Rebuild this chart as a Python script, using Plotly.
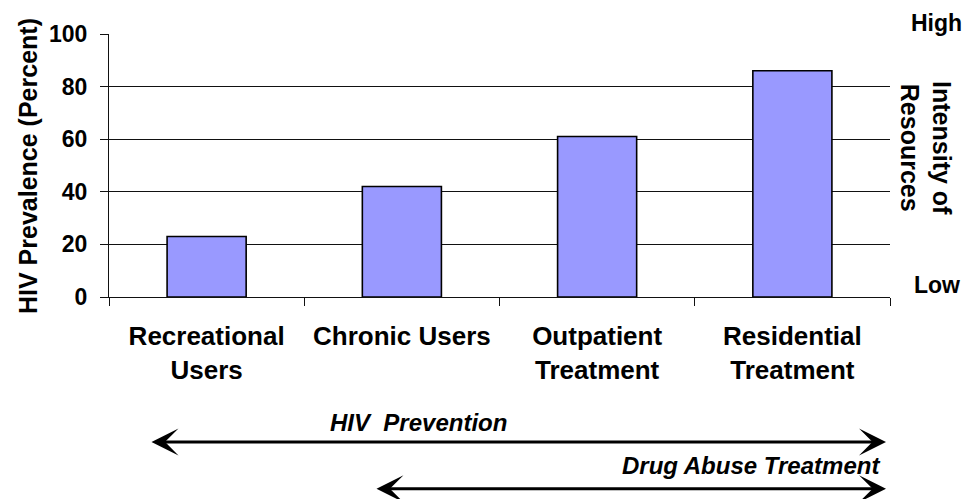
import plotly.graph_objects as go

categories = ["Recreational<br>Users", "Chronic Users", "Outpatient<br>Treatment", "Residential<br>Treatment"]
prevalence = [23, 42, 61, 86]
y_ticks = [0, 20, 40, 60, 80, 100]

FONT = "Liberation Sans"

L, R, T, B = 109, 80, 33.5, 201.5
W, H = 970, 499
pw = W - L - R
ph = H - T - B

def px(x):
    return (x - L) / pw

def py(y):
    return (H - B - y) / ph

fig = go.Figure()
fig.add_trace(go.Bar(
    x=categories, y=prevalence,
    marker=dict(color="#9999FF", line=dict(color="#000000", width=1.6)),
    width=0.405,
))

fig.update_layout(
    width=W, height=H,
    margin=dict(l=L, r=R, t=T, b=B, pad=0),
    paper_bgcolor="white", plot_bgcolor="white",
    showlegend=False,
    font=dict(family=FONT, color="black"),
    xaxis=dict(
        type="category", range=[-0.5, 3.5],
        tickvals=categories, ticktext=["<b>" + c + "</b>" for c in categories],
        showgrid=False, showline=True, linecolor="#111", linewidth=1,
        ticks="outside", ticklen=8, tickcolor="#111", tickson="boundaries",
        tickfont=dict(family=FONT, size=26, color="black"),
        ticklabelstandoff=16,
    ),
    yaxis=dict(
        range=[0, 100], tickvals=y_ticks,
        ticktext=["<b>%d</b>" % v for v in y_ticks],
        showgrid=True, gridcolor="#111", gridwidth=1,
        showline=True, linecolor="#111", linewidth=1,
        ticks="outside", ticklen=8, tickcolor="#111",
        tickfont=dict(family=FONT, size=23, color="black"),
        ticklabelstandoff=8, zeroline=False,
    ),
)

ann_font = dict(family=FONT, size=25, color="black")
fig.add_annotation(text="<b>HIV Prevalence (Percent)</b>", xref="paper", yref="paper",
                   x=px(28), y=py(166), textangle=-90, showarrow=False,
                   xanchor="center", yanchor="middle", font=ann_font)
fig.add_annotation(text="<b>High</b>", xref="paper", yref="paper", x=px(937), y=py(22),
                   showarrow=False, xanchor="center", yanchor="middle", font=dict(ann_font, size=23))
fig.add_annotation(text="<b>Low</b>", xref="paper", yref="paper", x=px(937), y=py(285),
                   showarrow=False, xanchor="center", yanchor="middle", font=dict(ann_font, size=23))
fig.add_annotation(text="<b>Intensity of<br>Resources</b>", xref="paper", yref="paper",
                   x=px(926), y=py(148), textangle=90, showarrow=False,
                   xanchor="center", yanchor="middle", font=ann_font)

fig.add_annotation(text="<b><i>HIV\u00a0 Prevention</i></b>", xref="paper", yref="paper",
                   x=px(418), y=py(423), showarrow=False,
                   xanchor="center", yanchor="middle", font=dict(ann_font, size=24))
fig.add_annotation(text="<b><i>Drug Abuse Treatment</i></b>", xref="paper", yref="paper",
                   x=px(882), y=py(467), showarrow=False,
                   xanchor="right", yanchor="middle", font=dict(ann_font, size=24))

for x0, x1, yy in [(150, 886, 443), (375, 886, 490)]:
    fig.add_annotation(text="", xref="paper", yref="paper", x=px(x1), y=py(yy),
                       axref="pixel", ayref="pixel", ax=-(x1 - x0), ay=0,
                       showarrow=True, arrowhead=3, startarrowhead=3,
                       arrowside="end+start", arrowsize=1.5, startarrowsize=1.5,
                       arrowwidth=3, arrowcolor="black", standoff=0, startstandoff=0)

fig.write_html("out.html")
